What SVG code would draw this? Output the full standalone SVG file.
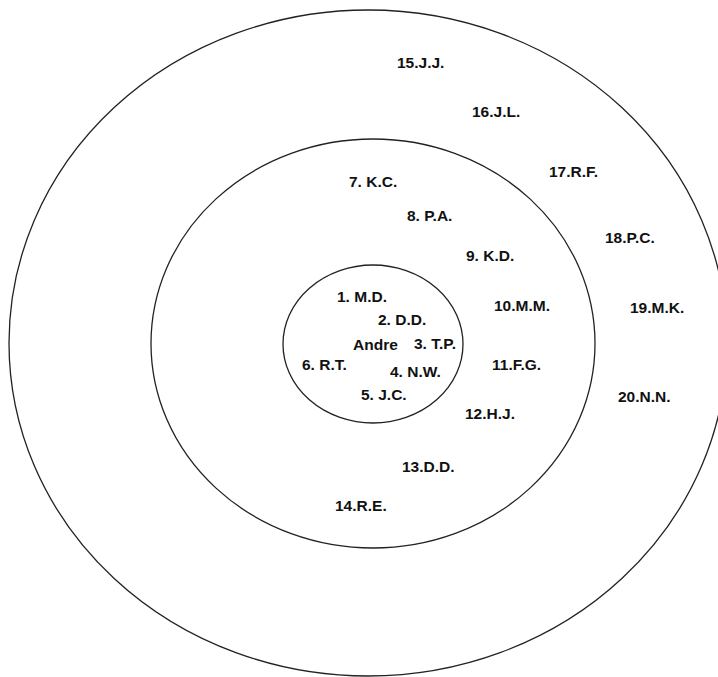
<svg xmlns="http://www.w3.org/2000/svg" width="718" height="677" viewBox="0 0 718 677">
<style>
.ring{fill:none;stroke:#222;stroke-width:1.3}
.lbl{font-family:"Liberation Sans",Arial,sans-serif;font-weight:bold;font-size:15.5px;fill:#111}
</style>
<rect width="718" height="677" fill="#fff"/>
<g id="rings">
<ellipse id="outer" class="ring" cx="368" cy="343" rx="359" ry="333"/>
<ellipse id="middle" class="ring" cx="373" cy="343.5" rx="222" ry="204.5"/>
<ellipse id="inner" class="ring" cx="373" cy="344" rx="90" ry="79"/>
</g>
<g id="connectors"></g>
<g id="n-andre"><text class="lbl" x="353" y="350">Andre</text></g>
<g id="n1"><text class="lbl" x="337" y="302">1. M.D.</text></g>
<g id="n2"><text class="lbl" x="378" y="325">2. D.D.</text></g>
<g id="n3"><text class="lbl" x="414" y="349">3. T.P.</text></g>
<g id="n4"><text class="lbl" x="390" y="377">4. N.W.</text></g>
<g id="n5"><text class="lbl" x="361" y="400">5. J.C.</text></g>
<g id="n6"><text class="lbl" x="302" y="370">6. R.T.</text></g>
<g id="n7"><text class="lbl" x="349" y="187">7. K.C.</text></g>
<g id="n8"><text class="lbl" x="407" y="221">8. P.A.</text></g>
<g id="n9"><text class="lbl" x="466" y="261">9. K.D.</text></g>
<g id="n10"><text class="lbl" x="494" y="311">10.M.M.</text></g>
<g id="n11"><text class="lbl" x="492" y="370">11.F.G.</text></g>
<g id="n12"><text class="lbl" x="465" y="419">12.H.J.</text></g>
<g id="n13"><text class="lbl" x="402" y="472">13.D.D.</text></g>
<g id="n14"><text class="lbl" x="335" y="511">14.R.E.</text></g>
<g id="n15"><text class="lbl" x="397" y="68">15.J.J.</text></g>
<g id="n16"><text class="lbl" x="472" y="117">16.J.L.</text></g>
<g id="n17"><text class="lbl" x="549" y="177">17.R.F.</text></g>
<g id="n18"><text class="lbl" x="605" y="243">18.P.C.</text></g>
<g id="n19"><text class="lbl" x="630" y="313">19.M.K.</text></g>
<g id="n20"><text class="lbl" x="618" y="402">20.N.N.</text></g>
</svg>
